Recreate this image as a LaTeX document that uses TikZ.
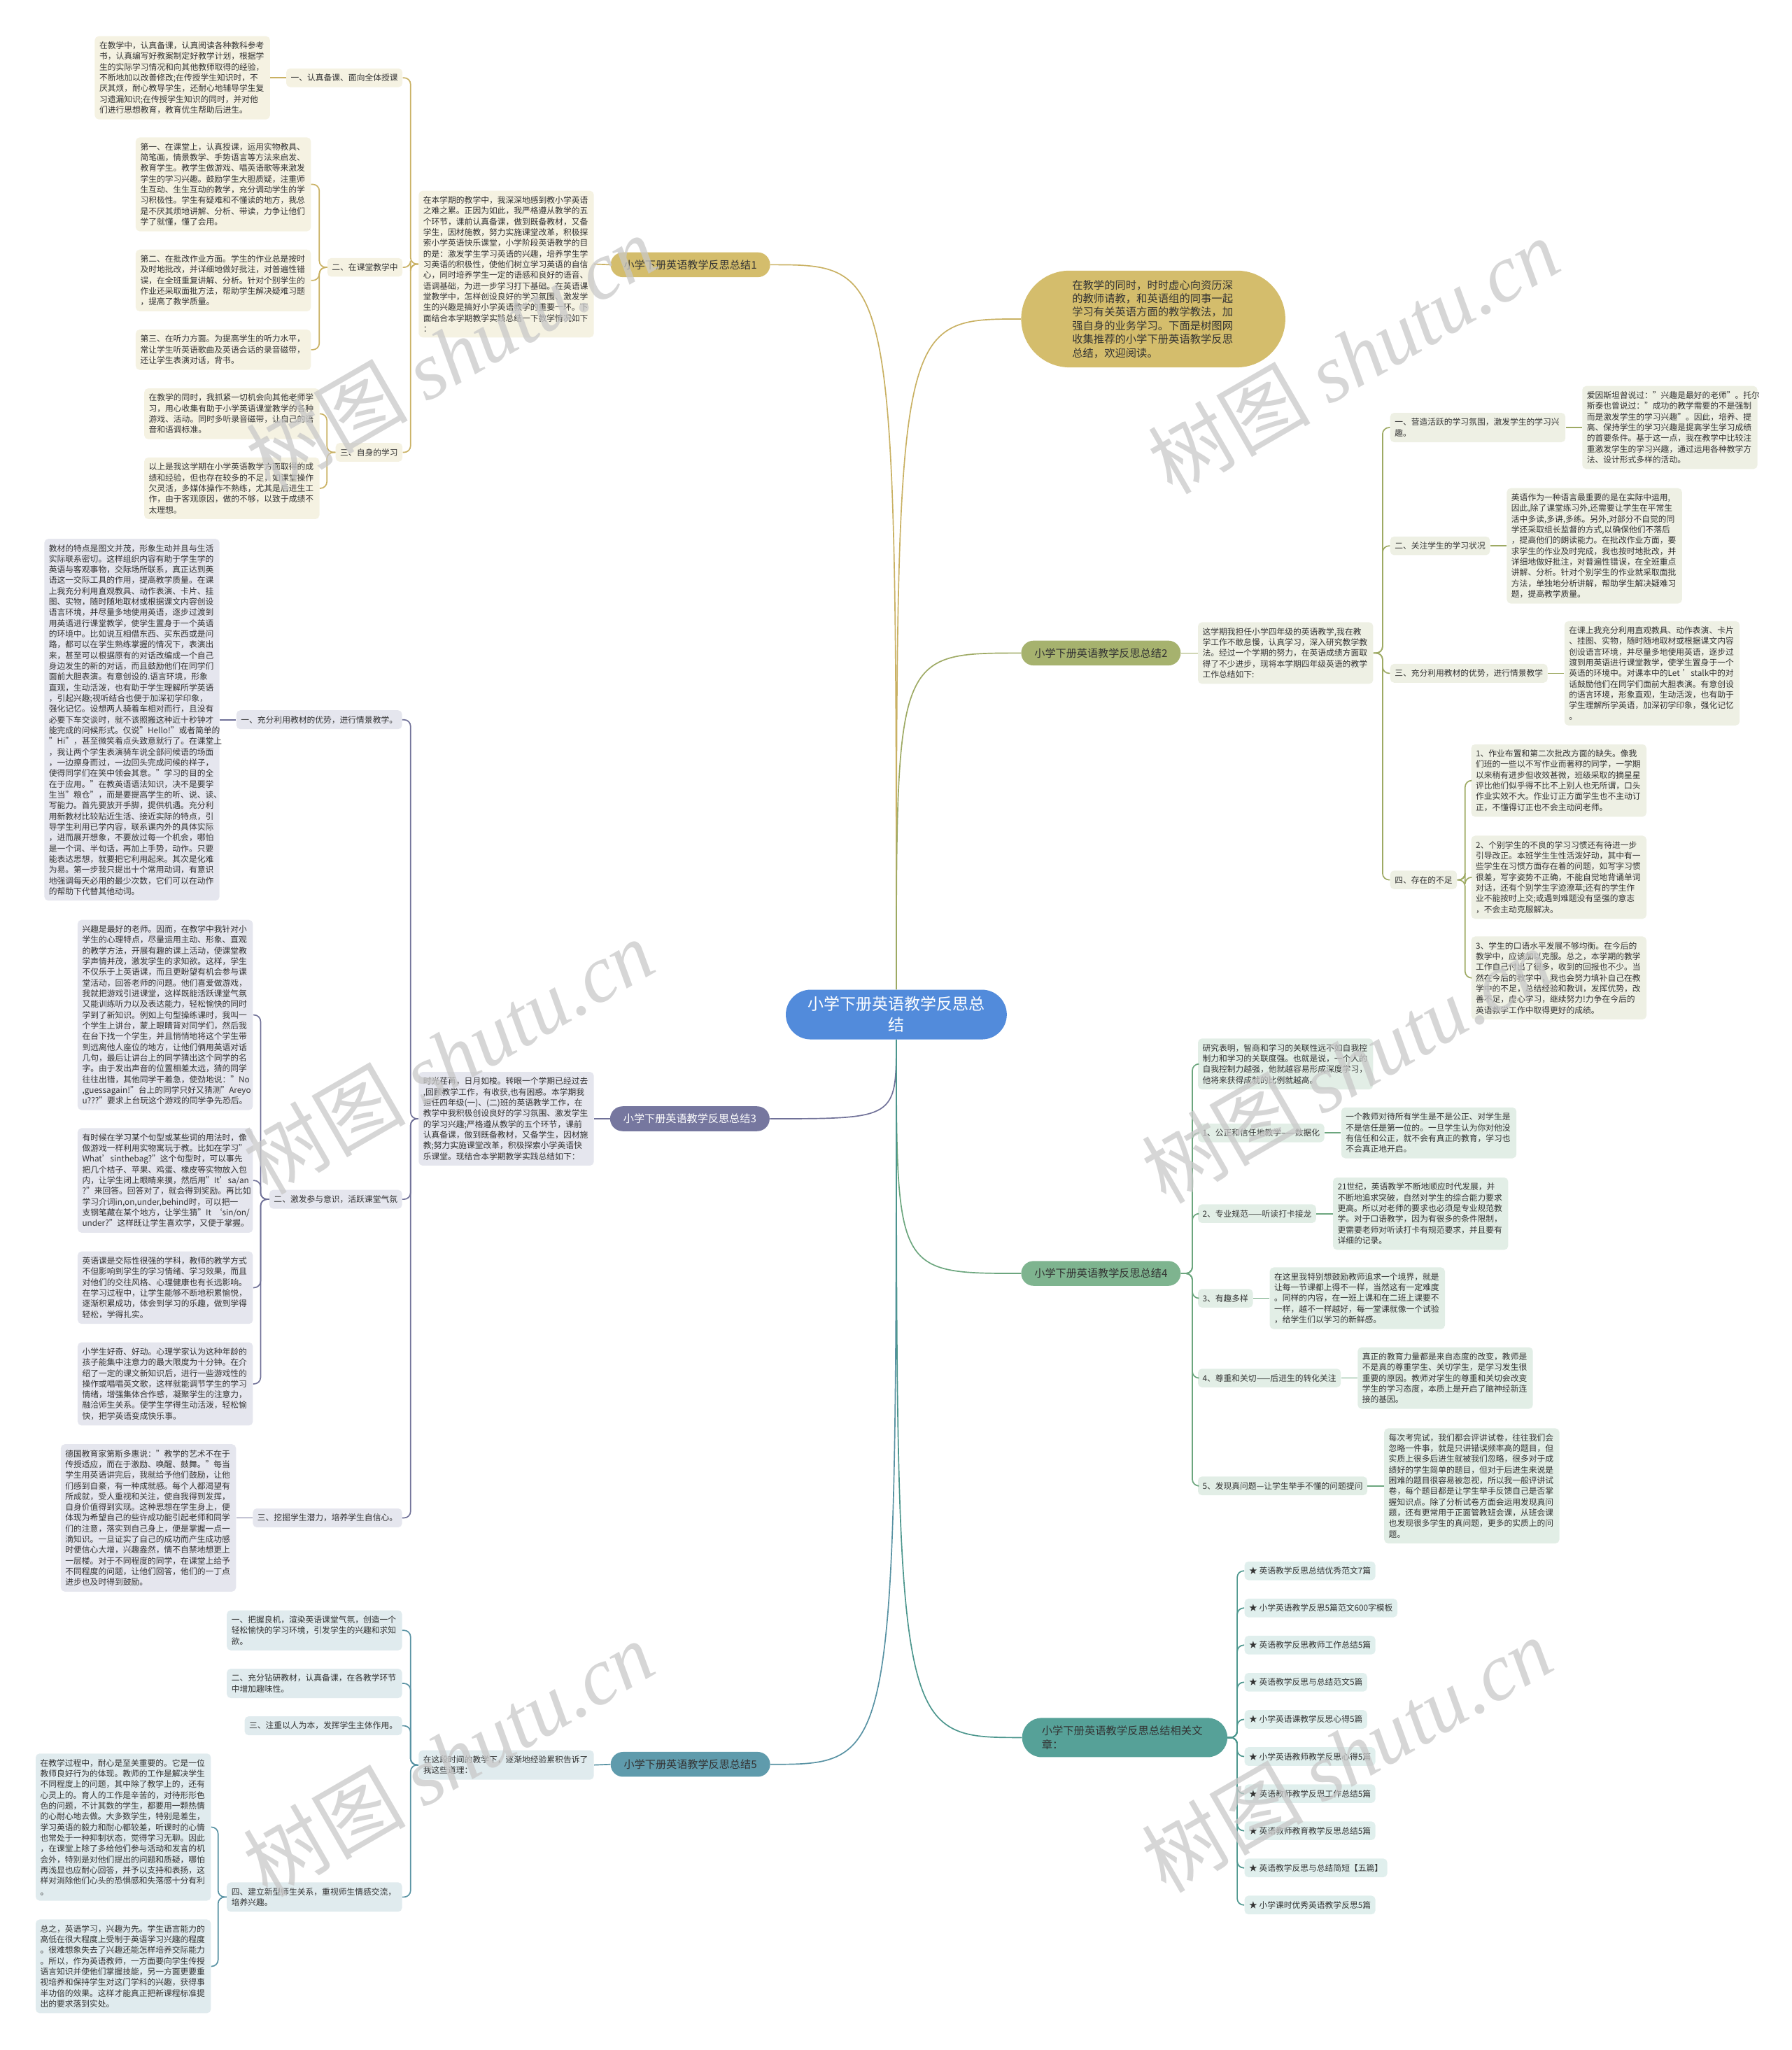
\documentclass[tikz,border=0pt]{standalone}
\usepackage{fontspec}
\setmainfont{Noto Sans CJK SC}
\newfontfamily\wmfont{Liberation Serif}
\usetikzlibrary{positioning}
\definecolor{rootblue}{RGB}{82,139,219}
\definecolor{goldfill}{RGB}{212,189,108}
\definecolor{goldline}{RGB}{201,177,99}
\definecolor{goldleaf}{RGB}{245,242,226}
\definecolor{olivefill}{RGB}{166,178,110}
\definecolor{oliveline}{RGB}{158,170,100}
\definecolor{oliveleaf}{RGB}{238,240,228}
\definecolor{slatefill}{RGB}{118,119,159}
\definecolor{slateline}{RGB}{112,113,152}
\definecolor{slateleaf}{RGB}{229,230,238}
\definecolor{greenfill}{RGB}{126,180,143}
\definecolor{greenline}{RGB}{108,166,126}
\definecolor{greenleaf}{RGB}{226,238,230}
\definecolor{steelfill}{RGB}{95,155,172}
\definecolor{steelline}{RGB}{88,146,163}
\definecolor{steelleaf}{RGB}{224,235,238}
\definecolor{tealfill}{RGB}{86,161,152}
\definecolor{tealline}{RGB}{76,150,141}
\definecolor{tealleaf}{RGB}{224,239,237}
\definecolor{inkgray}{RGB}{51,51,51}
\definecolor{wmgray}{RGB}{200,200,200}
\newcommand{\leaffont}{\fontsize{6.3}{8.2}\selectfont}

\begin{document}
\begin{tikzpicture}[x=1pt, y=-1pt,
    root/.style={rectangle, fill=rootblue, rounded corners=19pt, text=white,
                 minimum width=169pt, minimum height=38pt, align=center,
                 font=\fontsize{12.3}{16}\selectfont},
    intro/.style={rectangle, fill=goldfill, rounded corners=37pt, text=inkgray,
                 minimum width=202pt, minimum height=74pt, text width=124pt, align=left,
                 font=\fontsize{8.2}{10.4}\selectfont},
    topic/.style={rectangle, fill=#1, rounded corners=9.5pt, text=inkgray,
                 minimum width=122pt, minimum height=19pt, inner sep=0pt,
                 font=\fontsize{8.1}{10}\selectfont},
    tag/.style={rectangle, fill=#1, rounded corners=3pt, text=inkgray,
                 inner xsep=3.5pt, inner ysep=4.2pt, align=left, font=\leaffont},
    note/.style={tag=#1, text width=127pt},
    link/.style={draw=#1, line width=0.9pt},
    trunk/.style={link=#1, rounded corners=5pt},
    wm/.style={text=wmgray, opacity=0.75, rotate=30, font=\fontsize{62}{62}\selectfont}
  ]
  \useasboundingbox (0,0) rectangle (1370,1568);

  % Root and intro
  \node[root] (root) at (685.5,776) {小学下册英语教学反思总\\结};
  \node[intro] (intro) at (882,244) {在教学的同时，时时虚心向资历深\\的教师请教，和英语组的同事一起\\学习有关英语方面的教学教法，加\\强自身的业务学习。下面是树图网\\收集推荐的小学下册英语教学反思\\总结，欢迎阅读。};

  % Branch 1
  \node[topic=goldfill] (b1) at (528,202.5) {小学下册英语教学反思总结1};
  \node[note=goldleaf, anchor=west] (b1txt) at (320,202) {在本学期的教学中，我深深地感到教小学英语\\之难之累。正因为如此，我严格遵从教学的五\\个环节，课前认真备课，做到既备教材，又备\\学生，因材施教，努力实施课堂改革，积极探\\索小学英语快乐课堂，小学阶段英语教学的目\\的是：激发学生学习英语的兴趣，培养学生学\\习英语的积极性，使他们树立学习英语的自信\\心，同时培养学生一定的语感和良好的语音、\\语调基础，为进一步学习打下基础。在英语课\\堂教学中，怎样创设良好的学习氛围、激发学\\生的兴趣是搞好小学英语教学的重要一环。下\\面结合本学期教学实践总结一下教学情况如下\\：};
  \node[tag=goldleaf, anchor=east] (b1l1) at (308,59.5) {一、认真备课、面向全体授课};
  \node[tag=goldleaf, anchor=east] (b1l2) at (308,204.5) {二、在课堂教学中};
  \node[tag=goldleaf, anchor=east] (b1l3) at (308,346) {三、自身的学习};
  \node[note=goldleaf, left=12pt of b1l1] (b1l1a) {在教学中，认真备课，认真阅读各种教科参考\\书，认真编写好教案制定好教学计划，根据学\\生的实际学习情况和向其他教师取得的经验，\\不断地加以改善修改;在传授学生知识时，不\\厌其烦，耐心教导学生，还耐心地辅导学生复\\习遗漏知识;在传授学生知识的同时，并对他\\们进行思想教育，教育优生帮助后进生。};
  \node[note=goldleaf, anchor=east] (b1l2a) at (238,141) {第一、在课堂上，认真授课，运用实物教具、\\简笔画，情景教学、手势语言等方法来启发、\\教育学生。教学生做游戏、唱英语歌等来激发\\学生的学习兴趣。鼓励学生大胆质疑，注重师\\生互动、生生互动的教学，充分调动学生的学\\习积极性。学生有疑难和不懂读的地方，我总\\是不厌其烦地讲解、分析、带读，力争让他们\\学了就懂，懂了会用。};
  \node[note=goldleaf, anchor=east] (b1l2b) at (238,214.5) {第二、在批改作业方面。学生的作业总是按时\\及时地批改，并详细地做好批注，对普遍性错\\误，在全班重复讲解、分析。针对个别学生的\\作业还采取面批方法，帮助学生解决疑难习题\\，提高了教学质量。};
  \node[note=goldleaf, anchor=east] (b1l2c) at (238,267.5) {第三、在听力方面。为提高学生的听力水平，\\常让学生听英语歌曲及英语会话的录音磁带，\\还让学生表演对话，背书。};
  \node[note=goldleaf, anchor=east] (b1l3a) at (244.5,316.5) {在教学的同时，我抓紧一切机会向其他老师学\\习，用心收集有助于小学英语课堂教学的各种\\游戏、活动。同时多听录音磁带，让自己的语\\音和语调标准。};
  \node[note=goldleaf, anchor=east] (b1l3b) at (244.5,373.5) {以上是我这学期在小学英语教学方面取得的成\\绩和经验，但也存在较多的不足，如课堂操作\\欠灵活，多媒体操作不熟练，尤其是后进生工\\作，由于客观原因，做的不够，以致于成绩不\\太理想。};

  % Branch 2
  \node[topic=olivefill] (b2) at (842,499.5) {小学下册英语教学反思总结2};
  \node[note=oliveleaf, anchor=west] (b2txt) at (916,499.5) {这学期我担任小学四年级的英语教学,我在教\\学工作不敢怠慢，认真学习，深入研究教学教\\法。经过一个学期的努力，在英语成绩方面取\\得了不少进步，现将本学期四年级英语的教学\\工作总结如下:};
  \node[note=oliveleaf, anchor=west] (b2l1) at (1063,327) {一、营造活跃的学习氛围，激发学生的学习兴\\趣。};
  \node[tag=oliveleaf, anchor=west] (b2l2) at (1063,417.5) {二、关注学生的学习状况};
  \node[tag=oliveleaf, anchor=west] (b2l3) at (1063,515) {三、充分利用教材的优势，进行情景教学};
  \node[tag=oliveleaf, anchor=west] (b2l4) at (1063,673) {四、存在的不足};
  \node[note=oliveleaf, right=12.5pt of b2l1] (b2l1a) {爱因斯坦曾说过："兴趣是最好的老师"。托尔\\斯泰也曾说过："成功的教学需要的不是强制\\而是激发学生的学习兴趣"。因此，培养、提\\高、保持学生的学习兴趣是提高学生学习成绩\\的首要条件。基于这一点，我在教学中比较注\\重激发学生的学习兴趣，通过运用各种教学方\\法、设计形式多样的活动。};
  \node[note=oliveleaf, right=12.5pt of b2l2] (b2l2a) {英语作为一种语言最重要的是在实际中运用,\\因此,除了课堂练习外,还需要让学生在平常生\\活中多读,多讲,多练。另外,对部分不自觉的同\\学还采取组长监督的方式,以确保他们不落后\\，提高他们的朗读能力。在批改作业方面，要\\求学生的作业及时完成，我也按时地批改，并\\详细地做好批注，对普遍性错误，在全班重点\\讲解、分析。针对个别学生的作业就采取面批\\方法，单独地分析讲解，帮助学生解决疑难习\\题，提高教学质量。};
  \node[note=oliveleaf, right=12.5pt of b2l3] (b2l3a) {在课上我充分利用直观教具、动作表演、卡片\\、挂图、实物，随时随地取材或根据课文内容\\创设语言环境，并尽量多地使用英语，逐步过\\渡到用英语进行课堂教学，使学生置身于一个\\英语的环境中。对课本中的Let~’stalk中的对\\话鼓励他们在同学们面前大胆表演。有意创设\\的语言环境，形象直观，生动活泼，也有助于\\学生理解所学英语，加深初学印象，强化记忆\\。};
  \node[note=oliveleaf, anchor=west] (b2l4a) at (1125,597) {1、作业布置和第二次批改方面的缺失。像我\\们班的一些以不写作业而著称的同学，一学期\\以来稍有进步但收效甚微，班级采取的摘星星\\评比他们似乎得不比不上别人也无所谓，口头\\作业实效不大。作业订正方面学生也不主动订\\正，不懂得订正也不会主动问老师。};
  \node[note=oliveleaf, anchor=west] (b2l4b) at (1125,671) {2、个别学生的不良的学习习惯还有待进一步\\引导改正。本班学生生性活泼好动，其中有一\\些学生在习惯方面存在着的问题，如写字习惯\\很差，写字姿势不正确，不能自觉地背诵单词\\对话，还有个别学生字迹潦草;还有的学生作\\业不能按时上交;或遇到难题没有坚强的意志\\，不会主动克服解决。};
  \node[note=oliveleaf, anchor=west] (b2l4c) at (1125,748) {3、学生的口语水平发展不够均衡。在今后的\\教学中，应该加以克服。总之，本学期的教学\\工作自己付出了很多，收到的回报也不少。当\\然在今后的教学中，我也会努力填补自己在教\\学中的不足，总结经验和教训，发挥优势，改\\善不足，虚心学习，继续努力!力争在今后的\\英语教学工作中取得更好的成绩。};

  % Branch 3
  \node[topic=slatefill, text=white] (b3) at (527.6,855.7) {小学下册英语教学反思总结3};
  \node[note=slateleaf, anchor=west] (b3txt) at (320,855.7) {时光荏苒，日月如梭。转眼一个学期已经过去\\,回顾教学工作，有收获,也有困惑。本学期我\\担任四年级(一)、(二)班的英语教学工作，在\\教学中我积极创设良好的学习氛围、激发学生\\的学习兴趣;严格遵从教学的五个环节，课前\\认真备课，做到既备教材，又备学生，因材施\\教;努力实施课堂改革，积极探索小学英语快\\乐课堂。现结合本学期教学实践总结如下：};
  \node[tag=slateleaf, anchor=east] (b3l1) at (307.7,550.5) {一、充分利用教材的优势，进行情景教学。};
  \node[tag=slateleaf, anchor=east] (b3l2) at (307.7,917.3) {二、激发参与意识，活跃课堂气氛};
  \node[tag=slateleaf, anchor=east] (b3l3) at (307.7,1161) {三、挖掘学生潜力，培养学生自信心。};
  \node[note=slateleaf, left=12.5pt of b3l1] (b3l1a) {教材的特点是图文并茂，形象生动并且与生活\\实际联系密切。这样组织内容有助于学生学的\\英语与客观事物，交际场所联系，真正达到英\\语这一交际工具的作用，提高教学质量。在课\\上我充分利用直观教具、动作表演、卡片、挂\\图、实物，随时随地取材或根据课文内容创设\\语言环境，并尽量多地使用英语，逐步过渡到\\用英语进行课堂教学，使学生置身于一个英语\\的环境中。比如说互相借东西、买东西或是问\\路，都可以在学生熟练掌握的情况下，表演出\\来，甚至可以根据原有的对话改编成一个自己\\身边发生的新的对话，而且鼓励他们在同学们\\面前大胆表演。有意创设的.语言环境，形象\\直观，生动活泼，也有助于学生理解所学英语\\，引起兴趣;视听结合也便于加深初学印象，\\强化记忆。设想两人骑着车相对而行，且没有\\必要下车交谈时，就不该照搬这种近十秒钟才\\能完成的问候形式。仅说"Hello!"或者简单的\\"Hi"，甚至微笑着点头致意就行了。在课堂上\\，我让两个学生表演骑车说全部问候语的场面\\，一边擦身而过，一边回头完成问候的样子，\\使得同学们在笑中领会其意。"学习的目的全\\在于应用。"在教英语语法知识，决不是要学\\生当"粮仓"，而是要提高学生的听、说、读、\\写能力。首先要放开手脚，提供机遇。充分利\\用新教材比较贴近生活、接近实际的特点，引\\导学生利用已学内容，联系课内外的具体实际\\，进而展开想象，不要放过每一个机会，哪怕\\是一个词、半句话，再加上手势，动作。只要\\能表达思想，就要把它利用起来。其次是化难\\为易。第一步我只提出十个常用动词，有意识\\地强调每天必用的最少次数，它们可以在动作\\的帮助下代替其他动词。};
  \node[note=slateleaf, anchor=east] (b3l2a) at (193.6,776.3) {兴趣是最好的老师。因而，在教学中我针对小\\学生的心理特点，尽量运用主动、形象、直观\\的教学方法，开展有趣的课上活动，使课堂教\\学声情并茂，激发学生的求知欲。这样，学生\\不仅乐于上英语课，而且更盼望有机会参与课\\堂活动，回答老师的问题。他们喜爱做游戏，\\我就把游戏引进课堂，这样既能活跃课堂气氛\\又能训练听力以及表达能力，轻松愉快的同时\\学到了新知识。例如上句型操练课时，我叫一\\个学生上讲台，蒙上眼睛背对同学们，然后我\\在台下找一个学生，并且悄悄地将这个学生带\\到远离他人座位的地方，让他们俩用英语对话\\几句，最后让讲台上的同学猜出这个同学的名\\字。由于发出声音的位置相差太远，猜的同学\\往往出错，其他同学干着急，使劲地说："No\\,guessagain!"台上的同学只好又猜测"Areyo\\u???"要求上台玩这个游戏的同学争先恐后。};
  \node[note=slateleaf, anchor=east] (b3l2b) at (193.6,902.9) {有时候在学习某个句型或某些词的用法时，像\\做游戏一样利用实物寓玩于教。比如在学习"\\What’sinthebag?"这个句型时，可以事先\\把几个桔子、苹果、鸡蛋、橡皮等实物放入包\\内，让学生闭上眼睛来摸，然后用"It’sa/an\\?"来回答。回答对了，就会得到奖励。再比如\\学习介词in,on,under,behind时，可以把一\\支钢笔藏在某个地方，让学生猜"It~‘sin/on/\\under?"这样既让学生喜欢学，又便于掌握。};
  \node[note=slateleaf, anchor=east] (b3l2c) at (193.6,984.9) {英语课是交际性很强的学科，教师的教学方式\\不但影响到学生的学习情绪、学习效果，而且\\对他们的交往风格、心理健康也有长远影响。\\在学习过程中，让学生能够不断地积累愉悦，\\逐渐积累成功，体会到学习的乐趣，做到学得\\轻松，学得扎实。};
  \node[note=slateleaf, anchor=east] (b3l2d) at (193.6,1058.5) {小学生好奇、好动。心理学家认为这种年龄的\\孩子能集中注意力的最大限度为十分钟。在介\\绍了一定的课文新知识后，进行一些游戏性的\\操作或唱唱英文歌，这样就能调节学生的学习\\情绪，增强集体合作感，凝聚学生的注意力，\\融洽师生关系。使学生学得生动活泼，轻松愉\\快，把学英语变成快乐事。};
  \node[note=slateleaf, left=12.5pt of b3l3] (b3l3a) {德国教育家第斯多惠说："教学的艺术不在于\\传授适应，而在于激励、唤醒、鼓舞。"每当\\学生用英语讲完后，我就给予他们鼓励，让他\\们感到自豪，有一种成就感。每个人都渴望有\\所成就，受人重视和关注，使自我得到发挥，\\自身价值得到实现。这种思想在学生身上，便\\体现为希望自己的些许成功能引起老师和同学\\们的注意，落实到自己身上，便是掌握一点一\\滴知识。一旦证实了自己的成功而产生成功感\\时便信心大增，兴趣盎然，情不自禁地想更上\\一层楼。对于不同程度的同学，在课堂上给予\\不同程度的问题，让他们回答，他们的一丁点\\进步也及时得到鼓励。};

  % Branch 4
  \node[topic=greenfill] (b4) at (842,974) {小学下册英语教学反思总结4};
  \node[note=greenleaf, anchor=west] (b4top) at (916,813.8) {研究表明，智商和学习的关联性远不如自我控\\制力和学习的关联度强。也就是说，一个人的\\自我控制力越强，他就越容易形成深度学习，\\他将来获得成就的比例就越高。};
  \node[tag=greenleaf, anchor=west] (b4l1) at (916,866.5) {1、公正和信任地教学——数据化};
  \node[tag=greenleaf, anchor=west] (b4l2) at (916,928.3) {2、专业规范——听读打卡接龙};
  \node[tag=greenleaf, anchor=west] (b4l3) at (916,993) {3、有趣多样};
  \node[tag=greenleaf, anchor=west] (b4l4) at (916,1054) {4、尊重和关切——后进生的转化关注};
  \node[tag=greenleaf, anchor=west] (b4l5) at (916,1136.5) {5、发现真问题—让学生举手不懂的问题提问};
  \node[note=greenleaf, right=12.5pt of b4l1] (b4l1a) {一个教师对待所有学生是不是公正、对学生是\\不是信任是第一位的。一旦学生认为你对他没\\有信任和公正，就不会有真正的教育，学习也\\不会真正地开启。};
  \node[note=greenleaf, right=12.5pt of b4l2] (b4l2a) {21世纪，英语教学不断地顺应时代发展，并\\不断地追求突破，自然对学生的综合能力要求\\更高。所以对老师的要求也必须是专业规范教\\学。对于口语教学，因为有很多的条件限制，\\更需要老师对听读打卡有规范要求，并且要有\\详细的记录。};
  \node[note=greenleaf, right=12.5pt of b4l3] (b4l3a) {在这里我特别想鼓励教师追求一个境界，就是\\让每一节课都上得不一样，当然这有一定难度\\。同样的内容，在一班上课和在二班上课要不\\一样，越不一样越好，每一堂课就像一个试验\\，给学生们以学习的新鲜感。};
  \node[note=greenleaf, right=12.5pt of b4l4] (b4l4a) {真正的教育力量都是来自态度的改变，教师是\\不是真的尊重学生、关切学生，是学习发生很\\重要的原因。教师对学生的尊重和关切会改变\\学生的学习态度，本质上是开启了脑神经新连\\接的基因。};
  \node[note=greenleaf, right=12.5pt of b4l5] (b4l5a) {每次考完试，我们都会评讲试卷，往往我们会\\忽略一件事，就是只讲错误频率高的题目，但\\实质上很多后进生就被我们忽略，很多对于成\\绩好的学生简单的题目，但对于后进生来说是\\困难的题目很容易被忽视，所以我一般评讲试\\卷，每个题目都是让学生举手反馈自己是否掌\\握知识点。除了分析试卷方面会运用发现真问\\题，还有更常用于正面管教班会课，从班会课\\也发现很多学生的真问题，更多的实质上的问\\题。};

  % Branch 5
  \node[topic=steelfill] (b5) at (528,1349.5) {小学下册英语教学反思总结5};
  \node[note=steelleaf, anchor=west] (b5txt) at (320,1350) {在这段时间的教学下，逐渐地经验累积告诉了\\我这些道理：};
  \node[note=steelleaf, anchor=east] (b5l1) at (307.7,1247) {一、把握良机，渲染英语课堂气氛，创造一个\\轻松愉快的学习环境，引发学生的兴趣和求知\\欲。};
  \node[note=steelleaf, anchor=east] (b5l2) at (307.7,1287.6) {二、充分钻研教材，认真备课，在各教学环节\\中增加趣味性。};
  \node[tag=steelleaf, anchor=east] (b5l3) at (307.7,1320) {三、注重以人为本，发挥学生主体作用。};
  \node[note=steelleaf, anchor=east] (b5l4) at (307.7,1451) {四、建立新型师生关系，重视师生情感交流，\\培养兴趣。};
  \node[note=steelleaf, anchor=east] (b5l4a) at (161.5,1397.5) {在教学过程中，耐心是至关重要的。它是一位\\教师良好行为的体现。教师的工作是解决学生\\不同程度上的问题，其中除了教学上的，还有\\心灵上的。育人的工作是辛苦的，对待形形色\\色的问题，不计其数的学生，都要用一颗热情\\的心耐心地去做。大多数学生，特别是差生，\\学习英语的毅力和耐心都较差，听课时的心情\\也常处于一种抑制状态，觉得学习无聊。因此\\，在课堂上除了多给他们参与活动和发言的机\\会外，特别是对他们提出的问题和质疑，哪怕\\再浅显也应耐心回答，并予以支持和表扬，这\\样对消除他们心头的恐惧感和失落感十分有利\\。};
  \node[note=steelleaf, anchor=east] (b5l4b) at (161.5,1504) {总之，英语学习，兴趣为先。学生语言能力的\\高低在很大程度上受制于英语学习兴趣的程度\\。很难想象失去了兴趣还能怎样培养交际能力\\。所以，作为英语教师，一方面要向学生传授\\语言知识并使他们掌握技能，另一方面更要重\\视培养和保持学生对这门学科的兴趣，获得事\\半功倍的效果。这样才能真正把新课程标准提\\出的要求落到实处。};

  % Related articles
  \node[topic=tealfill, anchor=west, text width=127pt, inner xsep=15pt, minimum height=30pt,
        rounded corners=15pt, align=left, font=\fontsize{8.2}{11}\selectfont] (rel) at (781.5,1329)
        {小学下册英语教学反思总结相关文\\章：};
  \foreach \t [count=\i] in {英语教学反思总结优秀范文7篇, 小学英语教学反思5篇范文600字模板,
      英语教学反思教师工作总结5篇, 英语教学反思与总结范文5篇, 小学英语课教学反思心得5篇,
      小学英语教师教学反思心得5篇, 英语教师教学反思工作总结5篇, 英语教师教育教学反思总结5篇,
      英语教学反思与总结简短【五篇】, 小学课时优秀英语教学反思5篇}
    \node[tag=tealleaf, anchor=west] (rel\i) at (951.6,{1201.5+28.4*(\i-1)}) {★ \t};

  % Connectors from root
  \draw[link=goldline] (root.north) .. controls (root.north |- intro.west) .. (intro.west);
  \draw[link=goldline] (root.north) .. controls (root.north |- b1.east) .. (b1.east);
  \draw[link=oliveline] (root.north) .. controls (root.north |- b2.west) .. (b2.west);
  \draw[link=slateline] (root.south) .. controls (root.south |- b3.east) .. (b3.east);
  \draw[link=greenline] (root.south) .. controls (root.south |- b4.west) .. (b4.west);
  \draw[link=steelline] (root.south) .. controls (root.south |- b5.east) .. (b5.east);
  \draw[link=tealline] (root.south) .. controls (root.south |- rel.west) .. (rel.west);

  % Branch 1 connectors
  \draw[link=goldline] (b1.west) -- (b1txt.east);
  \foreach \n in {b1l1,b1l2,b1l3} \draw[trunk=goldline] (b1txt.west) -- ++(-6,0) |- (\n.east);
  \draw[link=goldline] (b1l1.west) -- (b1l1a.east);
  \foreach \n in {b1l2a,b1l2b,b1l2c} \draw[trunk=goldline] (b1l2.west) -- ++(-6,0) |- (\n.east);
  \foreach \n in {b1l3a,b1l3b} \draw[trunk=goldline] (b1l3.west) -- ++(-6.5,0) |- (\n.east);

  % Branch 2 connectors
  \draw[link=oliveline] (b2.east) -- (b2txt.west);
  \foreach \n in {b2l1,b2l2,b2l3,b2l4} \draw[trunk=oliveline] (b2txt.east) -- ++(7,0) |- (\n.west);
  \foreach \n in {b2l1,b2l2,b2l3} \draw[link=oliveline] (\n.east) -- (\n a.west);
  \foreach \n in {b2l4a,b2l4b,b2l4c} \draw[trunk=oliveline] (b2l4.east) -- ++(6,0) |- (\n.west);

  % Branch 3 connectors
  \draw[link=slateline] (b3.west) -- (b3txt.east);
  \foreach \n in {b3l1,b3l2,b3l3} \draw[trunk=slateline] (b3txt.west) -- ++(-6,0) |- (\n.east);
  \draw[link=slateline] (b3l1.west) -- (b3l1a.east);
  \draw[link=slateline] (b3l3.west) -- (b3l3a.east);
  \foreach \n in {b3l2a,b3l2b,b3l2c,b3l2d} \draw[trunk=slateline] (b3l2.west) -- ++(-6.5,0) |- (\n.east);

  % Branch 4 connectors
  \foreach \n in {b4top,b4l1,b4l2,b4l3,b4l4,b4l5} \draw[trunk=greenline] (b4.east) -- ++(8.7,0) |- (\n.west);
  \foreach \n in {b4l1,b4l2,b4l3,b4l4,b4l5} \draw[link=greenline] (\n.east) -- (\n a.west);

  % Branch 5 connectors
  \draw[link=steelline] (b5.west) -- (b5txt.east);
  \foreach \n in {b5l1,b5l2,b5l3,b5l4} \draw[trunk=steelline] (b5txt.west) -- ++(-6,0) |- (\n.east);
  \foreach \n in {b5l4a,b5l4b} \draw[trunk=steelline] (b5l4.west) -- ++(-6.5,0) |- (\n.east);

  % Related connectors
  \foreach \i in {1,...,10} \draw[trunk=tealline] (rel.east) -- ++(7.3,0) |- (rel\i.west);

  % Watermarks
  \foreach \x/\y [count=\k] in {345/270, 1035/272, 343/808, 1030/815, 343/1345, 1030/1342}
    \node[wm] (wm\k) at (\x,\y) {树图 {\wmfont\itshape shutu.cn}};
\end{tikzpicture}
\end{document}
